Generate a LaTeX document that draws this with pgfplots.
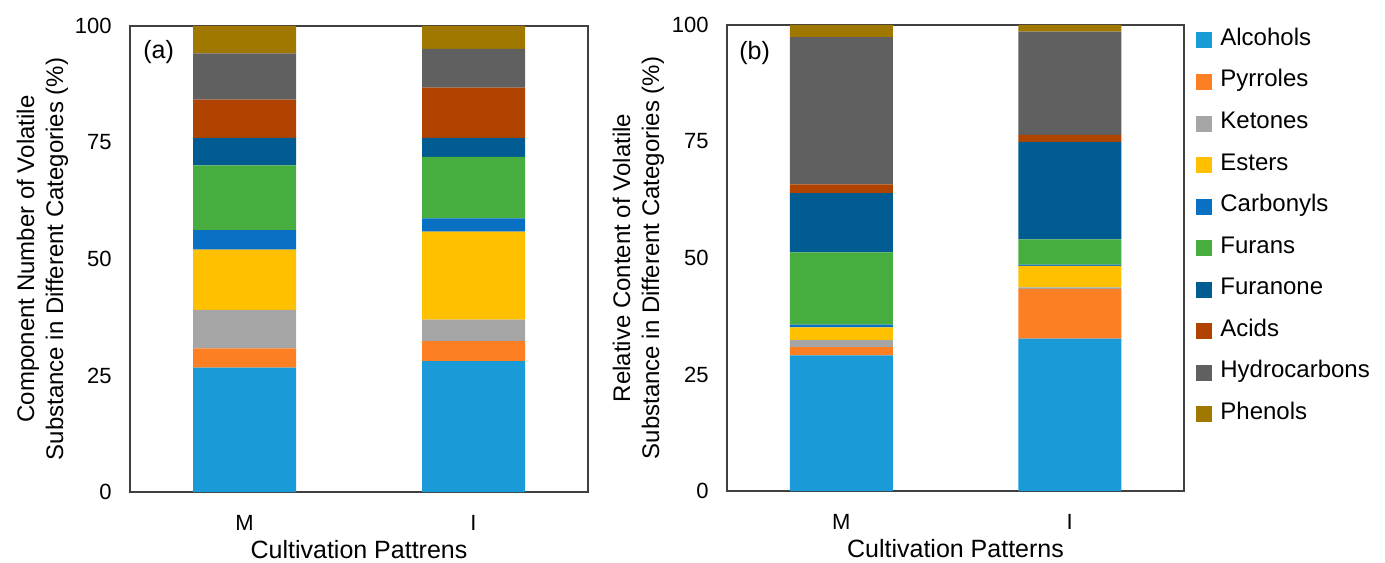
\documentclass[border=0pt]{standalone}
\usepackage{fontspec}
\setmainfont{Liberation Sans}
\usepackage{pgfplots}
\usepackage{pgfplotstable}
\pgfplotsset{compat=1.18}

\definecolor{cAlc}{HTML}{1A9BD7}
\definecolor{cPyr}{HTML}{FD7F23}
\definecolor{cKet}{HTML}{A5A5A5}
\definecolor{cEst}{HTML}{FFC000}
\definecolor{cCar}{HTML}{0A70C4}
\definecolor{cFur}{HTML}{48AD3F}
\definecolor{cFuo}{HTML}{015C92}
\definecolor{cAci}{HTML}{B04300}
\definecolor{cHyd}{HTML}{606060}
\definecolor{cPhe}{HTML}{A07800}

\pgfplotstableread{
x Alcohols Pyrroles Ketones Esters Carbonyls Furans Furanone Acids Hydrocarbons Phenols
0 26.7 4.1 8.3 12.9 4.2 13.9 5.9 8.2 9.9 5.9
1 28.1 4.3 4.6 18.9 2.8 13.2 4.1 10.8 8.3 4.9
}\tabA

\pgfplotstableread{
x Alcohols Pyrroles Ketones Esters Carbonyls Furans Furanone Acids Hydrocarbons Phenols
0 29.1 1.8 1.5 2.7 0.6 15.5 12.7 1.9 31.6 2.6
1 32.7 10.7 0.3 4.6 0.3 5.4 20.9 1.5 22.2 1.4
}\tabB

\pgfplotsset{
  mystyle/.style={
    ybar stacked, bar width=51.5pt, scale only axis, height=233pt,
    xmin=-0.5, xmax=1.5, ymin=0, ymax=100,
    xtick={0,1}, xticklabels={M,I},
    ytick={0,25,50,75,100}, major tick length=0pt,
    axis line style={black!75, line width=0.9pt},
    tick label style={font=\fontsize{11}{13}\selectfont},
    /pgf/number format/assume math mode=true,
    yticklabel style={inner sep=0pt, xshift=-9pt},
    xticklabel style={inner sep=0pt, anchor=north, yshift=-11.5pt},
    xlabel style={at={(axis description cs:0.5,0)}, anchor=north, inner sep=0pt, yshift=-24pt, font=\fontsize{12.5}{14}\selectfont},
    ylabel style={anchor=south, inner sep=0pt, align=center, rotate=0, font=\fontsize{12}{14.5}\selectfont},
    legend image code/.code={\fill[##1] (0pt,-4pt) rectangle (8pt,4pt); \path[draw=none,fill=none] (0pt,-6.5pt) rectangle (12pt,6.5pt);},
  }
}

\begin{document}
\begin{tikzpicture}
\useasboundingbox (0,0) rectangle (692.5pt,281pt);
\begin{axis}[mystyle, at={(65pt,35pt)}, anchor=south west, width=229pt,
  xlabel={Cultivation Pattrens},
  ylabel={Component Number of Volatile\\Substance in Different Categories (\%)},
  ylabel style={at={(axis description cs:-0.134,0.5)}}]
\addplot[fill=cAlc, draw=none] table[x=x, y=Alcohols] {\tabA};
\addplot[fill=cPyr, draw=none] table[x=x, y=Pyrroles] {\tabA};
\addplot[fill=cKet, draw=none] table[x=x, y=Ketones] {\tabA};
\addplot[fill=cEst, draw=none] table[x=x, y=Esters] {\tabA};
\addplot[fill=cCar, draw=none] table[x=x, y=Carbonyls] {\tabA};
\addplot[fill=cFur, draw=none] table[x=x, y=Furans] {\tabA};
\addplot[fill=cFuo, draw=none] table[x=x, y=Furanone] {\tabA};
\addplot[fill=cAci, draw=none] table[x=x, y=Acids] {\tabA};
\addplot[fill=cHyd, draw=none] table[x=x, y=Hydrocarbons] {\tabA};
\addplot[fill=cPhe, draw=none] table[x=x, y=Phenols] {\tabA};
\node[anchor=north west, inner sep=0pt, font=\fontsize{12.5}{14}\selectfont, xshift=6.5pt, yshift=-7pt] at (rel axis cs:0,1) {(a)};
\end{axis}
\begin{axis}[mystyle, at={(363.5pt,35.5pt)}, anchor=south west, width=228.5pt,
  xlabel={Cultivation Patterns},
  ylabel={Relative Content of Volatile\\Substance in Different Categories (\%)},
  ylabel style={at={(axis description cs:-0.137,0.5)}},
  legend style={at={(axis description cs:1,1)}, anchor=north west, xshift=6pt, yshift=-1pt,
    draw=none, fill=none, inner sep=0pt, row sep=7.78pt,
    font=\fontsize{12}{14}\selectfont, cells={anchor=west},
    nodes={inner sep=0pt, text height=9pt, text depth=4pt}},
  legend cell align=left]
\addplot[fill=cAlc, draw=none] table[x=x, y=Alcohols] {\tabB};
\addplot[fill=cPyr, draw=none] table[x=x, y=Pyrroles] {\tabB};
\addplot[fill=cKet, draw=none] table[x=x, y=Ketones] {\tabB};
\addplot[fill=cEst, draw=none] table[x=x, y=Esters] {\tabB};
\addplot[fill=cCar, draw=none] table[x=x, y=Carbonyls] {\tabB};
\addplot[fill=cFur, draw=none] table[x=x, y=Furans] {\tabB};
\addplot[fill=cFuo, draw=none] table[x=x, y=Furanone] {\tabB};
\addplot[fill=cAci, draw=none] table[x=x, y=Acids] {\tabB};
\addplot[fill=cHyd, draw=none] table[x=x, y=Hydrocarbons] {\tabB};
\addplot[fill=cPhe, draw=none] table[x=x, y=Phenols] {\tabB};
\legend{Alcohols,Pyrroles,Ketones,Esters,Carbonyls,Furans,Furanone,Acids,Hydrocarbons,Phenols}
\node[anchor=north west, inner sep=0pt, font=\fontsize{12.5}{14}\selectfont, xshift=6pt, yshift=-8pt] at (rel axis cs:0,1) {(b)};
\end{axis}
\end{tikzpicture}
\end{document}
